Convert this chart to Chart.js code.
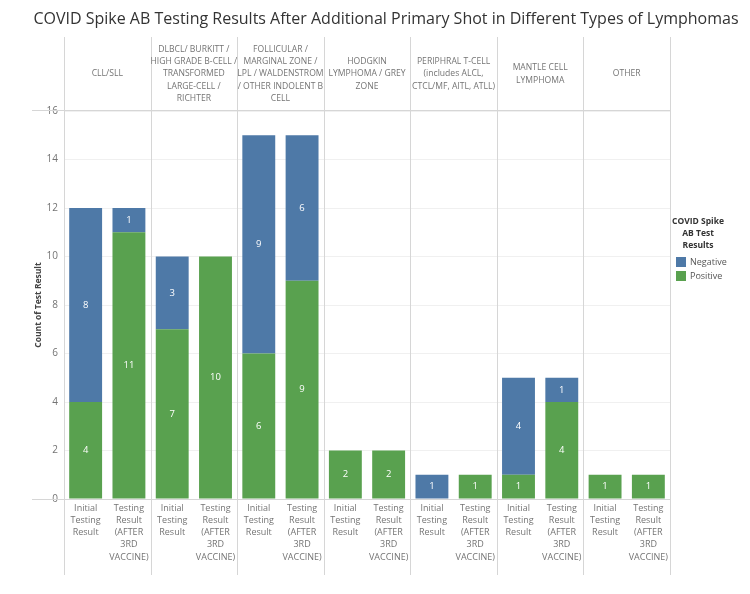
<!DOCTYPE html>
<html>
<head>
<meta charset="utf-8">
<script src="https://cdn.jsdelivr.net/npm/chart.js@4.4.1/dist/chart.umd.min.js"></script>
<style>
  html, body { margin: 0; padding: 0; background: #fff; }
</style>
</head>
<body>
<canvas id="chart" width="750" height="594"></canvas>
<script>
// chart data
const titleText = 'COVID Spike AB Testing Results After Additional Primary Shot in Different Types of Lymphomas';
const lymphomaTypes = [
    ['CLL/SLL'],
    ['DLBCL/ BURKITT /', 'HIGH GRADE B-CELL /', 'TRANSFORMED', 'LARGE-CELL /', 'RICHTER'],
    ['FOLLICULAR /', 'MARGINAL ZONE /', 'LPL / WALDENSTROM', '/ OTHER INDOLENT B', 'CELL'],
    ['HODGKIN', 'LYMPHOMA / GREY', 'ZONE'],
    ['PERIPHRAL T-CELL', '(includes ALCL,', 'CTCL/MF, AITL, ATLL)'],
    ['MANTLE CELL', 'LYMPHOMA'],
    ['OTHER']
];
const testPoints = [
    ['Initial', 'Testing', 'Result'],
    ['Testing', 'Result', '(AFTER', '3RD', 'VACCINE)']
];
// one value per bar: type x test point, in order
const negativeCounts = [8, 1, 3, 0, 9, 6, 0, 0, 1, 0, 4, 1, 0, 0];
const positiveCounts = [4, 11, 7, 10, 6, 9, 2, 2, 0, 1, 1, 4, 1, 1];
const yAxisTitle = 'Count of Test Result';
const legendTitle = ['COVID Spike', 'AB Test', 'Results'];

const FONT = "'Open Sans', 'Noto Sans', sans-serif";
const BLUE = '#4e79a7';
const GREEN = '#59a14f';
const LINE = '#d6d6d6';
const TEXT = '#747474';

// build the category labels (two bars per lymphoma type)
const labels = [];
lymphomaTypes.forEach(() => testPoints.forEach(tp => labels.push(tp)));

// draws title, facet headers, separators, legend and the numbers inside bars
const facetPlugin = {
    id: 'facets',
    beforeDatasetsDraw(chart) {
        const ctx = chart.ctx;
        const area = chart.chartArea;
        const x = chart.scales.x;
        ctx.save();

        // title
        ctx.fillStyle = '#333';
        ctx.font = '16px ' + FONT;
        ctx.textAlign = 'center';
        ctx.textBaseline = 'middle';
        ctx.fillText(titleText, 386, 19);

        // column boundaries from the x scale
        const bounds = [area.left];
        for (let g = 1; g < lymphomaTypes.length; g++) {
            bounds.push((x.getPixelForValue(g * 2 - 1) + x.getPixelForValue(g * 2)) / 2);
        }
        bounds.push(area.right);

        ctx.strokeStyle = LINE;
        ctx.lineWidth = 1;
        ctx.beginPath();
        bounds.forEach(b => {
            const bx = Math.round(b) + 0.5;
            ctx.moveTo(bx, 37);
            ctx.lineTo(bx, 575);
        });
        ctx.moveTo(32, Math.round(area.top) - 0.5);
        ctx.lineTo(area.right, Math.round(area.top) - 0.5);
        ctx.moveTo(32, Math.round(area.bottom) + 0.5);
        ctx.lineTo(area.right, Math.round(area.bottom) + 0.5);
        ctx.stroke();

        // facet headers
        ctx.fillStyle = TEXT;
        ctx.font = '8.6px ' + FONT;
        const midY = (37 + area.top) / 2;
        lymphomaTypes.forEach((lines, g) => {
            const cx = (bounds[g] + bounds[g + 1]) / 2;
            const startY = midY - (lines.length - 1) * 12.2 / 2;
            lines.forEach((ln, i) => ctx.fillText(ln, cx, startY + i * 12.2));
        });

        // y axis title
        ctx.save();
        ctx.translate(39, (area.top + area.bottom) / 2);
        ctx.rotate(-Math.PI / 2);
        ctx.fillStyle = '#444';
        ctx.font = 'bold 8.5px ' + FONT;
        ctx.fillText(yAxisTitle, 0, 0);
        ctx.restore();

        // legend
        ctx.fillStyle = '#333';
        ctx.font = 'bold 8.5px ' + FONT;
        legendTitle.forEach((ln, i) => ctx.fillText(ln, 698, 222 + i * 12));
        ctx.textAlign = 'left';
        ctx.font = '9px ' + FONT;
        [['Negative', BLUE], ['Positive', GREEN]].forEach(([name, col], i) => {
            ctx.fillStyle = col;
            ctx.fillRect(676, 257 + i * 14, 10, 10);
            ctx.fillStyle = '#555';
            ctx.fillText(name, 690, 262 + i * 14);
        });
        ctx.restore();
    },
    afterDatasetsDraw(chart) {
        const ctx = chart.ctx;
        ctx.save();
        ctx.fillStyle = '#fff';
        ctx.font = '9.5px ' + FONT;
        ctx.textAlign = 'center';
        ctx.textBaseline = 'middle';
        chart.data.datasets.forEach((ds, di) => {
            chart.getDatasetMeta(di).data.forEach((bar, i) => {
                if (ds.data[i] > 0) {
                    ctx.fillText(ds.data[i], bar.x, (bar.y + bar.base) / 2);
                }
            });
        });
        ctx.restore();
    }
};

new Chart(document.getElementById('chart'), {
    type: 'bar',
    data: {
        labels: labels,
        datasets: [{
            label: 'Positive',
            data: positiveCounts,
            backgroundColor: GREEN,
            borderWidth: 0
        }, {
            label: 'Negative',
            data: negativeCounts,
            backgroundColor: BLUE,
            borderWidth: 0
        }]
    },
    options: {
        responsive: false,
        devicePixelRatio: 1,
        animation: false,
        layout: { padding: { top: 111, right: 80, left: 0, bottom: 0 } },
        datasets: { bar: { barPercentage: 0.76, categoryPercentage: 1 } },
        plugins: {
            legend: { display: false },
            title: { display: false },
            tooltip: { enabled: false }
        },
        scales: {
            x: {
                stacked: true,
                grid: { display: false, drawTicks: false },
                border: { display: false },
                ticks: {
                    color: TEXT,
                    font: { family: FONT, size: 9, lineHeight: 1.36 },
                    padding: 3,
                    maxRotation: 0,
                    autoSkip: false
                },
                afterFit: s => { s.height = 95; }
            },
            y: {
                stacked: true,
                min: 0,
                max: 16,
                grid: { color: '#f0f0f0', drawTicks: false },
                border: { display: false },
                ticks: {
                    stepSize: 2,
                    color: TEXT,
                    font: { family: FONT, size: 10 },
                    padding: 6
                },
                afterFit: s => { s.width = 64; }
            }
        }
    },
    plugins: [facetPlugin]
});
</script>
</body>
</html>
